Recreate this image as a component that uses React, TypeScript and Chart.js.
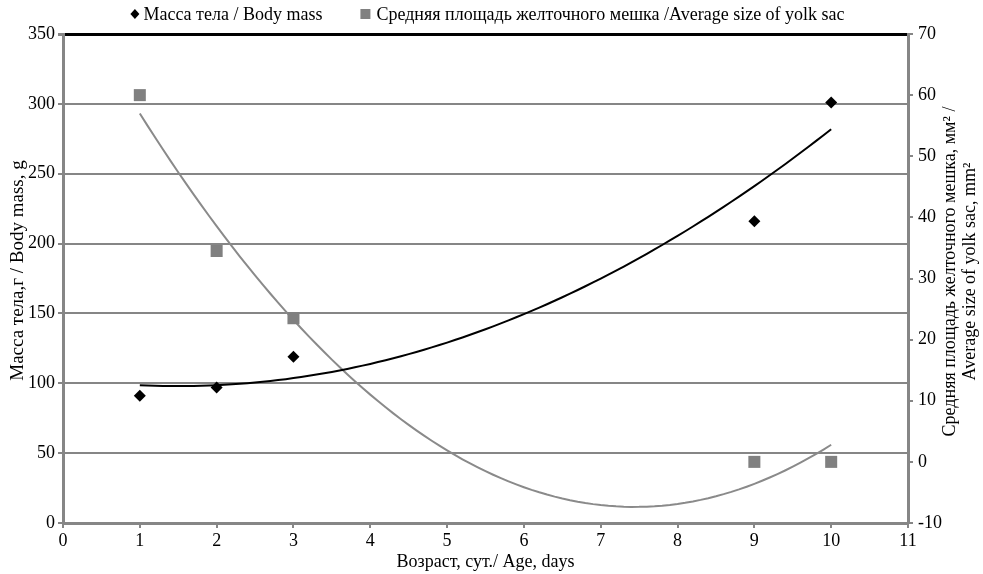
import React, { useEffect, useRef } from "react";
import { Chart, registerables } from "chart.js";

Chart.register(...registerables);

const ages = [1, 2, 3, 9, 10];
const bodyMass = [91, 97, 119, 216, 301];
const yolkSize = [60, 34.5, 23.5, 0, 0];

const leftTicks = [0, 50, 100, 150, 200, 250, 300, 350];
const rightTicks = [-10, 0, 10, 20, 30, 40, 50, 60, 70];

const labelMass = "Масса тела / Body mass";
const labelYolk = "Средняя площадь желточного мешка /Average size of yolk sac";
const titleX = "Возраст, сут./ Age, days";
const titleLeft = "Масса тела,г / Body mass, g";
const titleRight1 = "Средняя площадь желточного мешка, мм² /";
const titleRight2 = "Average size of yolk sac, mm²";

const FONT = "'Liberation Serif', 'Times New Roman', serif";
const GRAY = "#868686";
const FS = 18;

// least-squares quadratic trendline (like a spreadsheet's polynomial trendline)
function quadFit(xs: number[], ys: number[]) {
  let s0 = 0, s1 = 0, s2 = 0, s3 = 0, s4 = 0, t0 = 0, t1 = 0, t2 = 0;
  for (let i = 0; i < xs.length; i++) {
    const x = xs[i], y = ys[i];
    s0 += 1; s1 += x; s2 += x * x; s3 += x * x * x; s4 += x * x * x * x;
    t0 += y; t1 += x * y; t2 += x * x * y;
  }
  const M = [
    [s0, s1, s2, t0],
    [s1, s2, s3, t1],
    [s2, s3, s4, t2],
  ];
  for (let c = 0; c < 3; c++) {
    let p = c;
    for (let r = c + 1; r < 3; r++) if (Math.abs(M[r][c]) > Math.abs(M[p][c])) p = r;
    [M[c], M[p]] = [M[p], M[c]];
    for (let r = 0; r < 3; r++) {
      if (r === c) continue;
      const f = M[r][c] / M[c][c];
      for (let k = c; k < 4; k++) M[r][k] -= f * M[c][k];
    }
  }
  const a = M[0][3] / M[0][0], b = M[1][3] / M[1][1], c2 = M[2][3] / M[2][2];
  return (x: number) => a + b * x + c2 * x * x;
}

function trend(xs: number[], ys: number[]) {
  const f = quadFit(xs, ys);
  const lo = xs[0], hi = xs[xs.length - 1];
  const pts: { x: number; y: number }[] = [];
  const n = 90;
  for (let i = 0; i <= n; i++) {
    const x = lo + ((hi - lo) * i) / n;
    pts.push({ x, y: f(x) });
  }
  return pts;
}

const titlesPlugin = {
  id: "customTitles",
  afterDraw(chart: any) {
    const { ctx, chartArea } = chart;
    const cy = (chartArea.top + chartArea.bottom) / 2;
    ctx.save();
    ctx.fillStyle = "#000";
    ctx.font = `${FS}px ${FONT}`;
    ctx.textBaseline = "middle";

    // legend (drawn by hand so its height and spacing match)
    const w1 = ctx.measureText(labelMass).width;
    const w2 = ctx.measureText(labelYolk).width;
    const dW = 9, dGap = 4, sW = 10, sGap = 6, gapItems = 38;
    const total = dW + dGap + w1 + gapItems + sW + sGap + w2;
    let lx = chart.width / 2 - total / 2 - 4;
    const ly = 14;
    ctx.fillStyle = "#000";
    ctx.beginPath();
    ctx.moveTo(lx + dW / 2, ly - 5);
    ctx.lineTo(lx + dW, ly);
    ctx.lineTo(lx + dW / 2, ly + 5);
    ctx.lineTo(lx, ly);
    ctx.closePath();
    ctx.fill();
    lx += dW + dGap;
    ctx.textAlign = "left";
    ctx.fillText(labelMass, lx, ly + 1);
    lx += w1 + gapItems;
    ctx.fillStyle = "#808080";
    ctx.fillRect(lx, ly - 5, sW, sW);
    lx += sW + sGap;
    ctx.fillStyle = "#000";
    ctx.fillText(labelYolk, lx, ly + 1);

    ctx.textAlign = "center";
    // left title
    ctx.save();
    ctx.font = `19px ${FONT}`;
    ctx.translate(18, cy - 8);
    ctx.rotate(-Math.PI / 2);
    ctx.fillText(titleLeft, 0, 0);
    ctx.restore();
    // right title (two lines, reading bottom-to-top)
    ctx.save();
    ctx.translate(950, cy - 7);
    ctx.rotate(-Math.PI / 2);
    ctx.fillText(titleRight1, 0, 0);
    ctx.fillText(titleRight2, 0, 20);
    ctx.restore();
    // x title
    ctx.fillText(titleX, (chartArea.left + chartArea.right) / 2, 562);
    ctx.restore();
  },
};

export default function App() {
  const ref = useRef<HTMLCanvasElement>(null);
  useEffect(() => {
    document.body.style.margin = "0";
    const canvas = ref.current!;
    const chart = new Chart(canvas, {
      type: "scatter",
      data: {
        datasets: [
          {
            label: labelMass,
            data: ages.map((x, i) => ({ x, y: bodyMass[i] })),
            yAxisID: "y",
            pointStyle: "rectRot",
            pointRadius: 6,
            backgroundColor: "#000",
            borderColor: "#000",
            borderWidth: 0,
            order: 1,
          },
          {
            label: labelYolk,
            data: ages.map((x, i) => ({ x, y: yolkSize[i] })),
            yAxisID: "y1",
            pointStyle: "rect",
            pointRadius: 8.5,
            backgroundColor: "#808080",
            borderColor: "#808080",
            borderWidth: 0,
            order: 2,
          },
          {
            label: "trend-mass",
            data: trend(ages, bodyMass),
            yAxisID: "y",
            showLine: true,
            pointRadius: 0,
            borderColor: "#000",
            borderWidth: 2,
            order: 3,
          },
          {
            label: "trend-yolk",
            data: trend(ages, yolkSize),
            yAxisID: "y1",
            showLine: true,
            pointRadius: 0,
            borderColor: "#8a8a8a",
            borderWidth: 2,
            order: 4,
          },
        ] as any,
      },
      options: {
        animation: false,
        responsive: false,
        layout: { padding: { top: 34, left: 0, right: 0, bottom: 0 } },
        plugins: {
          tooltip: { enabled: false },
          legend: { display: false },
        },
        scales: {
          x: {
            type: "linear",
            min: 0,
            max: 11,
            afterFit: (s: any) => { s.height = 51; },
            afterBuildTicks: (s: any) => {
              s.ticks = Array.from({ length: 12 }, (_, i) => ({ value: i }));
            },
            grid: { drawOnChartArea: false, color: GRAY, tickLength: 5, lineWidth: 2 },
            border: { color: GRAY, width: 3 },
            ticks: { color: "#000", padding: 2, font: { family: FONT, size: FS } },
          },
          y: {
            position: "left",
            min: 0,
            max: 350,
            afterFit: (s: any) => { s.width = 63; },
            afterBuildTicks: (s: any) => {
              s.ticks = leftTicks.map((v) => ({ value: v }));
            },
            grid: {
              color: (c: any) => (c.tick && c.tick.value === 350 ? "#000" : GRAY),
              tickColor: GRAY,
              lineWidth: (c: any) => (c.tick && c.tick.value === 350 ? 3 : 2),
              tickLength: 5,
            },
            border: { color: GRAY, width: 3 },
            ticks: { color: "#000", padding: 3, font: { family: FONT, size: FS } },
          },
          y1: {
            position: "right",
            min: -10,
            max: 70,
            afterFit: (s: any) => { s.width = 75; },
            afterBuildTicks: (s: any) => {
              s.ticks = rightTicks.map((v) => ({ value: v }));
            },
            grid: { drawOnChartArea: false, color: GRAY, tickLength: 5, lineWidth: 2 },
            border: { color: GRAY, width: 3 },
            ticks: { color: "#000", padding: 5, font: { family: FONT, size: FS } },
          },
        },
      } as any,
      plugins: [titlesPlugin],
    });
    return () => chart.destroy();
  }, []);
  return (
    <div style={{ width: 983, height: 574 }}>
      <canvas ref={ref} width={983} height={574} style={{ display: "block" }} />
    </div>
  );
}
